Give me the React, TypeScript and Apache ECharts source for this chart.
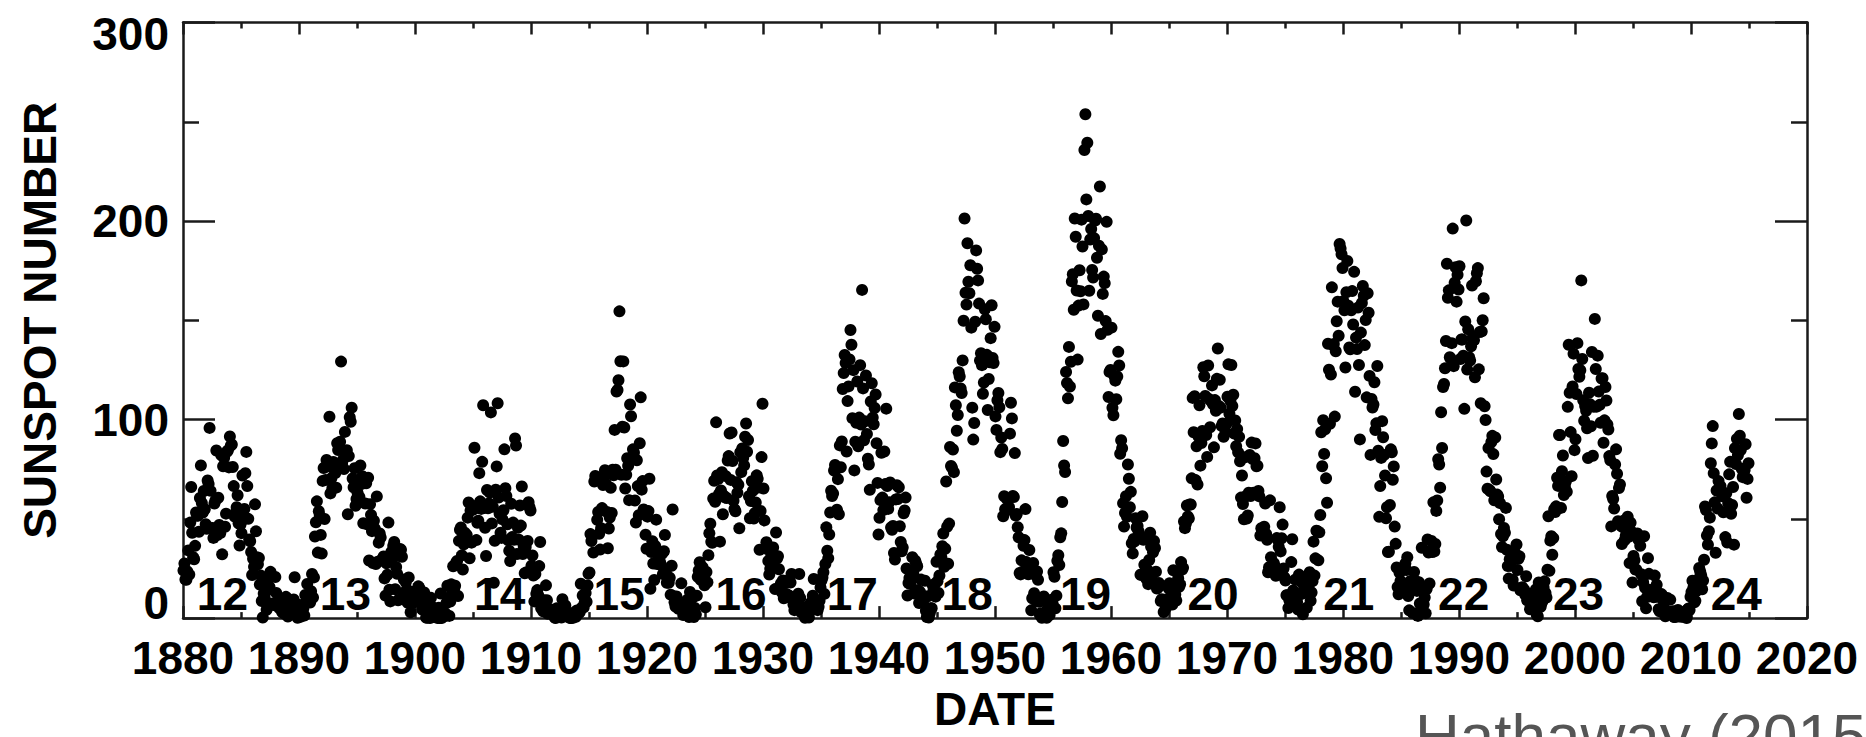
import { useEffect, useRef } from "react";
import * as echarts from "echarts";

// Monthly mean sunspot numbers, January to December, grouped by decade.
const ssn1880s = [
  24.0, 27.5, 19.5, 19.3, 23.5, 34.1, 21.9, 48.1, 66.0, 43.0, 30.7, 29.6,
  36.4, 53.2, 51.5, 51.7, 43.5, 60.5, 76.9, 58.0, 53.2, 64.0, 54.8, 47.3,
  45.0, 69.3, 67.5, 95.8, 64.1, 45.2, 45.4, 40.4, 57.7, 59.2, 84.4, 41.8,
  60.6, 46.9, 42.8, 82.1, 32.1, 76.5, 80.6, 46.0, 52.6, 83.8, 84.5, 75.9,
  91.5, 86.9, 87.5, 76.1, 66.5, 51.2, 53.1, 55.8, 61.9, 47.8, 36.6, 47.2,
  42.8, 71.8, 49.8, 55.0, 73.0, 83.7, 66.5, 50.0, 39.6, 38.7, 33.3, 21.7,
  29.9, 25.9, 57.3, 43.7, 30.7, 27.1, 30.3, 16.9, 21.4, 8.6, 0.3, 12.4,
  10.3, 13.2, 4.2, 6.9, 20.0, 15.7, 23.3, 21.4, 7.4, 6.6, 6.9, 20.7,
  12.7, 7.1, 7.8, 5.1, 7.0, 7.1, 3.1, 2.8, 8.8, 2.1, 10.7, 6.7,
  0.8, 8.5, 6.7, 4.3, 2.4, 6.4, 9.4, 20.6, 6.5, 2.1, 0.2, 6.7,
];
const ssn1890s = [
  5.3, 0.6, 5.1, 1.6, 4.8, 1.3, 11.6, 8.5, 17.2, 11.2, 9.6, 7.8,
  13.5, 22.2, 10.4, 20.5, 41.1, 48.3, 58.8, 33.0, 53.8, 51.5, 41.9, 32.5,
  69.1, 75.6, 49.9, 69.6, 79.6, 76.3, 76.8, 101.4, 62.8, 70.5, 65.4, 78.6,
  75.0, 73.0, 65.7, 88.1, 84.7, 88.2, 88.8, 129.2, 77.9, 79.7, 75.1, 93.8,
  83.2, 84.6, 52.3, 81.6, 101.2, 98.9, 106.0, 70.3, 65.9, 75.5, 56.6, 60.0,
  63.3, 67.2, 61.0, 76.9, 67.5, 71.5, 47.8, 68.9, 57.7, 67.9, 47.2, 70.7,
  29.0, 57.4, 52.0, 43.8, 27.7, 49.0, 45.0, 27.2, 61.3, 28.4, 38.0, 42.6,
  40.6, 29.4, 29.1, 31.0, 20.0, 11.3, 27.6, 21.8, 48.1, 14.3, 8.4, 33.3,
  30.2, 36.4, 38.3, 14.5, 25.8, 22.3, 9.0, 31.4, 34.8, 34.4, 30.9, 12.6,
  19.5, 9.2, 18.1, 14.2, 7.7, 20.5, 13.5, 2.9, 8.4, 13.0, 7.8, 10.5,
];
const ssn1900s = [
  9.4, 13.6, 8.6, 16.0, 15.2, 12.1, 8.3, 4.3, 8.3, 12.9, 4.5, 0.3,
  0.2, 2.4, 4.5, 0.0, 10.2, 5.8, 0.7, 1.0, 0.6, 3.7, 3.8, 0.0,
  5.2, 0.0, 12.4, 0.0, 2.8, 1.4, 0.9, 2.3, 7.6, 16.3, 10.3, 1.1,
  8.3, 17.0, 13.5, 26.1, 14.6, 16.3, 27.9, 28.8, 11.1, 38.9, 44.5, 45.6,
  31.6, 24.5, 37.2, 43.0, 39.5, 41.9, 50.6, 58.2, 30.1, 54.2, 38.0, 54.6,
  54.8, 85.8, 56.5, 39.3, 48.0, 49.0, 73.0, 58.8, 55.0, 78.7, 107.2, 55.5,
  45.5, 31.3, 64.5, 55.3, 57.7, 63.2, 103.6, 47.7, 56.1, 17.8, 38.9, 64.7,
  76.4, 108.2, 60.7, 52.6, 43.0, 40.4, 49.7, 54.3, 85.0, 65.4, 61.5, 47.3,
  39.2, 33.9, 28.7, 57.6, 40.8, 48.1, 39.5, 90.5, 86.9, 32.3, 45.5, 39.5,
  56.7, 46.6, 66.3, 32.3, 36.0, 22.6, 35.8, 23.1, 38.8, 58.4, 55.8, 54.2,
];
const ssn1910s = [
  26.4, 31.5, 21.4, 8.4, 22.2, 12.3, 14.1, 11.5, 26.2, 38.3, 4.9, 5.8,
  3.4, 9.0, 7.8, 16.5, 9.0, 2.2, 3.5, 4.0, 4.0, 2.6, 4.2, 2.2,
  0.3, 0.0, 4.9, 4.5, 4.4, 4.1, 3.0, 0.3, 9.5, 4.6, 1.1, 6.4,
  2.3, 2.9, 0.5, 0.9, 0.0, 0.0, 1.7, 0.2, 1.2, 3.1, 0.7, 3.8,
  2.8, 2.6, 3.1, 17.3, 5.2, 11.4, 5.4, 7.7, 12.7, 8.2, 16.4, 22.3,
  23.0, 42.3, 38.8, 41.3, 33.0, 68.8, 71.6, 69.6, 49.5, 53.5, 42.5, 34.5,
  45.3, 55.4, 67.0, 71.8, 74.5, 67.7, 53.5, 35.2, 45.1, 50.7, 65.6, 53.0,
  74.7, 71.9, 94.8, 74.7, 114.1, 114.9, 119.8, 154.5, 129.4, 72.2, 96.4, 129.3,
  96.0, 65.3, 72.2, 80.5, 76.7, 59.4, 107.6, 101.7, 79.9, 85.0, 83.4, 59.2,
  48.1, 79.5, 66.5, 51.8, 88.1, 111.2, 64.7, 69.0, 54.7, 52.8, 42.0, 34.9,
];
const ssn1920s = [
  51.1, 53.9, 70.2, 14.8, 33.3, 38.7, 27.5, 19.2, 36.3, 49.6, 27.2, 29.9,
  31.5, 28.3, 26.7, 32.4, 22.2, 33.7, 41.9, 22.8, 17.8, 18.2, 17.8, 20.3,
  11.8, 26.4, 54.7, 11.0, 8.0, 5.8, 10.9, 6.5, 4.7, 6.2, 7.4, 17.5,
  4.5, 1.5, 3.3, 6.1, 3.2, 9.1, 3.5, 0.5, 13.2, 11.6, 10.0, 2.8,
  0.5, 5.1, 1.8, 11.3, 20.8, 24.0, 28.1, 19.3, 25.1, 25.6, 22.5, 16.5,
  5.5, 23.2, 18.0, 31.7, 42.8, 47.5, 38.5, 37.9, 60.2, 69.2, 58.6, 98.6,
  71.8, 70.0, 62.5, 38.5, 64.3, 73.5, 52.3, 61.6, 60.8, 71.5, 60.5, 79.4,
  81.6, 93.0, 69.6, 93.5, 79.1, 59.1, 54.9, 53.8, 68.4, 63.1, 67.2, 45.2,
  83.5, 73.5, 85.4, 80.6, 76.9, 91.4, 98.0, 83.8, 89.7, 61.4, 50.3, 59.0,
  68.9, 64.1, 50.2, 52.8, 58.2, 71.9, 70.2, 65.8, 34.4, 54.0, 81.1, 108.0,
];
const ssn1930s = [
  65.3, 49.2, 35.0, 38.2, 36.8, 28.8, 21.9, 24.9, 32.1, 34.4, 35.6, 25.8,
  14.6, 43.1, 30.0, 31.2, 24.6, 15.3, 17.4, 13.0, 19.0, 10.0, 18.7, 17.8,
  12.1, 10.6, 11.2, 11.2, 17.9, 22.2, 9.6, 6.8, 4.0, 8.9, 8.2, 11.0,
  12.3, 22.2, 10.1, 2.9, 3.2, 5.2, 2.8, 0.2, 5.1, 3.0, 0.6, 0.3,
  3.4, 7.8, 4.3, 11.3, 19.7, 6.7, 9.3, 8.3, 4.0, 5.7, 8.7, 15.4,
  18.9, 20.5, 23.1, 12.2, 27.3, 45.7, 33.9, 30.1, 42.1, 53.2, 64.2, 61.5,
  62.8, 74.3, 77.1, 74.9, 54.6, 70.0, 52.3, 87.0, 76.0, 89.0, 115.4, 123.4,
  132.5, 128.5, 83.9, 109.3, 116.7, 130.3, 145.1, 137.7, 100.7, 124.9, 74.4, 88.8,
  98.4, 119.2, 86.5, 101.0, 127.4, 97.5, 165.3, 115.7, 89.6, 99.1, 122.2, 92.7,
  80.3, 77.4, 64.6, 109.1, 118.3, 101.0, 97.6, 105.8, 112.6, 88.1, 68.1, 42.1,
];
const ssn1940s = [
  50.5, 59.4, 83.3, 60.7, 54.4, 83.9, 67.5, 105.5, 66.5, 55.0, 58.4, 68.3,
  45.6, 44.5, 46.4, 32.8, 29.5, 59.8, 66.9, 60.0, 65.9, 46.3, 38.3, 33.7,
  35.6, 52.8, 54.2, 60.7, 25.0, 11.4, 17.7, 20.2, 17.2, 19.2, 30.7, 22.5,
  12.4, 28.9, 27.4, 26.1, 14.1, 7.6, 13.2, 19.4, 10.0, 7.8, 10.2, 18.8,
  3.7, 0.5, 11.0, 0.3, 2.5, 5.0, 5.0, 16.7, 14.3, 16.9, 10.8, 28.4,
  18.5, 12.7, 21.5, 32.0, 30.6, 36.2, 42.6, 25.9, 34.9, 68.8, 46.0, 27.4,
  47.6, 86.2, 76.6, 75.7, 84.9, 73.5, 116.2, 107.2, 94.4, 102.3, 123.8, 121.7,
  115.7, 113.4, 129.8, 149.8, 201.3, 163.9, 157.9, 188.8, 169.4, 163.6, 177.7, 146.3,
  106.0, 89.9, 98.3, 149.3, 185.2, 176.0, 170.1, 158.4, 129.7, 133.4, 127.4, 113.0,
  118.7, 155.6, 150.5, 132.6, 104.8, 120.4, 128.9, 141.0, 157.6, 131.0, 128.5, 146.7,
];
const ssn1950s = [
  101.6, 94.8, 109.7, 113.4, 106.2, 83.6, 91.0, 85.2, 51.3, 61.4, 54.8, 54.1,
  59.9, 59.9, 55.9, 92.9, 108.5, 100.6, 61.5, 61.0, 83.1, 51.6, 52.4, 45.8,
  40.7, 22.7, 22.0, 29.1, 23.4, 36.4, 39.3, 54.9, 28.2, 23.8, 22.1, 34.3,
  26.5, 3.9, 10.0, 27.8, 12.5, 21.8, 8.6, 23.5, 19.3, 8.2, 1.6, 2.5,
  0.2, 0.5, 10.9, 1.8, 0.8, 0.2, 4.8, 8.4, 1.5, 7.0, 9.2, 7.6,
  23.1, 20.8, 4.9, 11.3, 28.9, 31.7, 26.7, 40.7, 42.7, 58.5, 89.2, 76.9,
  73.6, 124.0, 118.4, 110.7, 136.6, 116.6, 129.1, 169.6, 173.2, 155.3, 201.3, 192.1,
  165.0, 130.2, 157.4, 175.2, 164.6, 200.7, 187.2, 158.0, 235.8, 253.8, 210.9, 239.4,
  202.5, 164.9, 190.7, 196.0, 175.3, 171.5, 191.4, 200.2, 201.2, 181.5, 152.3, 187.6,
  217.4, 143.1, 185.7, 163.3, 172.0, 168.7, 149.6, 199.6, 145.2, 111.4, 124.0, 125.0,
];
const ssn1960s = [
  146.3, 106.0, 102.2, 122.0, 119.6, 110.2, 121.7, 134.1, 127.2, 82.8, 89.6, 85.6,
  57.9, 46.1, 53.0, 61.4, 51.0, 77.4, 70.2, 55.8, 63.6, 37.7, 32.6, 39.9,
  38.7, 50.3, 45.6, 46.4, 43.7, 42.0, 21.8, 21.8, 51.3, 39.5, 26.9, 23.2,
  19.8, 24.4, 17.1, 29.3, 43.0, 35.9, 19.6, 33.2, 38.8, 35.3, 23.4, 14.9,
  15.3, 17.7, 16.5, 8.6, 9.5, 9.1, 3.1, 9.3, 4.7, 6.1, 7.4, 15.1,
  17.5, 14.2, 11.7, 6.8, 24.1, 15.9, 11.9, 8.9, 16.8, 20.1, 15.8, 17.0,
  28.2, 24.4, 25.3, 48.7, 45.3, 47.7, 56.7, 51.2, 50.2, 57.2, 57.2, 70.4,
  110.9, 93.6, 111.8, 69.5, 86.5, 67.3, 91.5, 107.2, 76.8, 88.2, 94.3, 126.4,
  121.8, 111.9, 92.2, 81.2, 127.2, 110.3, 96.1, 109.3, 117.2, 107.7, 86.0, 109.8,
  104.4, 120.5, 135.8, 106.8, 120.0, 106.0, 96.8, 98.0, 91.3, 95.7, 93.5, 97.9,
];
const ssn1970s = [
  111.5, 127.8, 102.9, 109.5, 127.5, 106.8, 112.5, 93.0, 99.5, 86.6, 95.2, 83.5,
  91.3, 79.0, 60.7, 71.8, 57.5, 49.8, 81.0, 61.4, 50.2, 51.7, 63.2, 82.2,
  61.5, 88.4, 80.1, 63.2, 80.5, 88.0, 76.5, 76.8, 64.0, 61.3, 41.6, 45.3,
  43.4, 42.9, 46.0, 57.7, 42.4, 39.5, 23.1, 25.6, 59.3, 30.7, 23.9, 23.3,
  27.6, 26.0, 21.3, 40.3, 39.5, 36.0, 55.8, 33.6, 40.2, 47.1, 25.0, 20.5,
  18.9, 11.5, 11.5, 5.1, 9.0, 11.4, 28.2, 39.7, 13.9, 9.1, 19.4, 7.8,
  8.1, 4.3, 21.9, 18.8, 12.4, 12.2, 1.9, 16.4, 13.5, 20.6, 5.2, 15.3,
  16.4, 23.1, 8.7, 12.9, 18.6, 38.5, 21.4, 30.1, 44.0, 43.8, 29.1, 43.2,
  51.9, 93.6, 76.5, 99.7, 82.7, 95.1, 70.4, 58.1, 138.2, 125.1, 97.9, 122.7,
  166.6, 137.5, 138.0, 101.5, 134.4, 149.5, 159.4, 142.2, 188.4, 186.2, 183.3, 176.3,
];
const ssn1980s = [
  159.6, 155.0, 126.2, 164.1, 179.9, 157.3, 136.3, 135.4, 155.0, 164.7, 147.9, 174.4,
  114.0, 141.3, 135.5, 156.4, 127.5, 90.0, 143.8, 158.7, 167.3, 162.4, 137.5, 150.1,
  111.2, 163.6, 153.8, 122.0, 82.2, 110.4, 106.1, 107.6, 118.8, 94.7, 98.1, 127.0,
  84.3, 51.0, 66.5, 80.7, 99.2, 91.1, 82.2, 71.8, 50.3, 55.8, 33.3, 33.4,
  57.0, 85.0, 83.5, 69.7, 76.4, 46.1, 37.4, 25.5, 15.7, 12.0, 22.8, 18.7,
  16.5, 15.9, 17.2, 16.2, 27.5, 24.2, 30.7, 11.1, 3.9, 18.6, 16.2, 17.3,
  2.5, 23.2, 15.1, 18.5, 13.7, 1.1, 18.1, 7.4, 3.8, 35.4, 15.2, 6.8,
  10.4, 2.4, 14.7, 39.6, 33.0, 17.4, 33.9, 38.8, 33.3, 58.3, 33.6, 37.3,
  54.0, 59.2, 80.0, 77.4, 65.7, 103.7, 85.7, 116.4, 117.9, 125.8, 139.6, 178.5,
  161.3, 165.1, 131.4, 130.6, 138.5, 196.2, 126.9, 168.9, 176.7, 159.4, 173.0, 165.5,
];
const ssn1990s = [
  177.2, 130.5, 140.3, 140.3, 132.2, 105.4, 149.4, 200.3, 125.2, 145.5, 131.4, 129.7,
  136.9, 167.5, 141.9, 140.0, 121.3, 169.7, 173.7, 176.3, 125.3, 144.1, 108.2, 144.4,
  150.0, 161.1, 106.7, 99.8, 73.8, 65.2, 85.7, 64.5, 63.9, 88.7, 91.8, 82.6,
  59.3, 91.0, 69.8, 62.2, 61.3, 49.8, 57.9, 42.4, 35.8, 41.2, 45.4, 43.0,
  55.5, 34.4, 26.2, 19.9, 29.7, 26.4, 28.7, 19.3, 16.4, 33.3, 31.1, 37.1,
  24.2, 29.9, 31.1, 14.0, 14.5, 15.6, 14.5, 14.3, 11.8, 21.1, 9.0, 10.0,
  11.5, 4.4, 9.2, 4.8, 5.5, 11.8, 8.2, 14.4, 1.6, 0.9, 17.9, 13.3,
  5.7, 7.6, 8.7, 15.5, 18.5, 12.7, 10.4, 24.4, 51.3, 23.8, 39.0, 41.2,
  31.9, 40.3, 54.8, 53.4, 56.3, 70.7, 66.6, 92.2, 92.2, 55.5, 74.0, 81.9,
  62.0, 66.3, 68.8, 63.7, 106.4, 137.7, 113.5, 93.7, 71.5, 116.7, 133.2, 84.6,
];
const ssn2000s = [
  90.1, 112.9, 138.5, 125.5, 121.6, 124.9, 170.1, 130.5, 109.7, 99.4, 106.8, 104.4,
  95.6, 80.6, 113.5, 107.7, 96.6, 134.0, 81.8, 106.4, 150.7, 125.5, 106.5, 132.2,
  114.1, 107.4, 98.4, 120.7, 120.8, 88.3, 99.6, 116.4, 109.6, 97.5, 95.0, 81.6,
  79.5, 46.2, 61.5, 60.0, 55.2, 77.4, 85.0, 72.7, 48.8, 65.5, 67.3, 46.5,
  37.3, 45.8, 49.1, 39.3, 41.5, 43.2, 51.1, 40.9, 27.7, 48.0, 43.5, 17.9,
  31.3, 29.2, 24.5, 24.4, 42.6, 39.6, 39.9, 36.4, 22.1, 8.5, 18.0, 41.2,
  15.3, 4.9, 10.6, 30.2, 22.3, 13.9, 12.2, 12.9, 14.4, 10.5, 21.4, 13.6,
  16.8, 10.7, 4.5, 3.4, 11.7, 12.1, 9.7, 6.0, 2.4, 0.9, 1.7, 10.1,
  3.3, 2.1, 9.3, 2.9, 3.2, 3.4, 0.5, 0.5, 1.1, 2.9, 4.1, 0.8,
  1.5, 1.4, 0.7, 0.8, 2.9, 2.9, 3.2, 0.0, 4.3, 4.8, 4.1, 10.8,
];
const ssn2010s = [
  13.2, 18.8, 15.4, 8.0, 8.7, 13.6, 16.1, 19.6, 25.2, 23.5, 21.6, 14.5,
  19.0, 29.4, 56.2, 54.4, 41.6, 37.0, 43.8, 50.6, 78.0, 88.0, 96.7, 73.0,
  58.3, 32.9, 64.3, 55.2, 69.0, 64.5, 66.5, 63.0, 61.4, 53.3, 61.8, 40.8,
  62.9, 38.1, 57.9, 72.4, 78.7, 52.5, 57.0, 66.0, 37.0, 85.6, 77.6, 90.3,
  82.0, 102.8, 91.9, 84.7, 75.2, 71.0, 72.4, 74.6, 87.6, 60.6, 70.1, 78.0,
];

const decadeStartYears = [1880, 1890, 1900, 1910, 1920, 1930, 1940, 1950, 1960, 1970, 1980, 1990, 2000, 2010];
const decadeSeries = [
  ssn1880s, ssn1890s, ssn1900s, ssn1910s, ssn1920s, ssn1930s, ssn1940s,
  ssn1950s, ssn1960s, ssn1970s, ssn1980s, ssn1990s, ssn2000s, ssn2010s,
];

// Solar cycle numbers and the dates they are written at
const cycleNumbers = ["12", "13", "14", "15", "16", "17", "18", "19", "20", "21", "22", "23", "24"];
const cycleLabelYears = [1883.4, 1894.0, 1907.3, 1917.6, 1928.1, 1937.7, 1947.6, 1957.8, 1968.8, 1980.5, 1990.4, 2000.3, 2013.9];
const cycleLabelLevel = 12.25;

const X_MIN = 1880;
const X_MAX = 2020;
const Y_MIN = 0;
const Y_MAX = 300;

const FONT = "'Liberation Sans', Arial, Helvetica, sans-serif";
const AXIS_COLOR = "#1a1a1a";

function monthlyPoints(): [number, number][] {
  const pts: [number, number][] = [];
  decadeSeries.forEach((values, d) => {
    values.forEach((v, i) => {
      pts.push([decadeStartYears[d] + (i + 0.5) / 12, v]);
    });
  });
  return pts;
}

export default function App() {
  const ref = useRef<HTMLDivElement>(null);

  useEffect(() => {
    if (!ref.current) return;
    const chart = echarts.init(ref.current, undefined, { renderer: "svg" });

    const lineStyle = { color: AXIS_COLOR, width: 2.5 };
    const labelFont = { fontSize: 46, fontWeight: "bold" as const, fontFamily: FONT, color: "#000" };

    const xCommon = {
      type: "value" as const,
      min: X_MIN,
      max: X_MAX,
      interval: 10,
      axisLine: { show: true, onZero: false, lineStyle },
      axisTick: { show: true, inside: true, length: 12, lineStyle },
      minorTick: { show: true, splitNumber: 2, length: 6, lineStyle },
      splitLine: { show: false },
      minorSplitLine: { show: false },
    };
    const yCommon = {
      type: "value" as const,
      min: Y_MIN,
      max: Y_MAX,
      interval: 100,
      axisLine: { show: true, onZero: false, lineStyle },
      axisTick: { show: true, inside: true, length: 32, lineStyle },
      minorTick: { show: true, splitNumber: 2, length: 16, lineStyle },
      splitLine: { show: false },
      minorSplitLine: { show: false },
    };

    chart.setOption({
      animation: false,
      backgroundColor: "#ffffff",
      grid: { left: 183, right: 59, top: 22.5, bottom: 114, containLabel: false },
      xAxis: [
        {
          ...xCommon,
          position: "bottom",
          axisLabel: { show: true, margin: 17, ...labelFont, formatter: (v: number) => String(v) },
          name: "DATE",
          nameLocation: "middle",
          nameGap: 67,
          nameTextStyle: { ...labelFont },
        },
        { ...xCommon, position: "top", axisLabel: { show: false } },
      ],
      yAxis: [
        {
          ...yCommon,
          position: "left",
          axisLabel: {
            show: true,
            margin: 14,
            ...labelFont,
            formatter: (v: number) => (v === Y_MIN ? `{lo|${v}}` : v === Y_MAX ? `{hi|${v}}` : `${v}`),
            rich: {
              lo: { ...labelFont, padding: [0, 0, 30, 0] },
              hi: { ...labelFont, padding: [22, 0, 0, 0] },
            },
          },
          name: "SUNSPOT NUMBER",
          nameLocation: "middle",
          nameGap: 120,
          nameTextStyle: { ...labelFont },
        },
        { ...yCommon, position: "right", axisLabel: { show: false } },
      ],
      series: [
        {
          type: "scatter",
          xAxisIndex: 0,
          yAxisIndex: 0,
          symbol: "circle",
          symbolSize: 12,
          itemStyle: { color: "#000000", opacity: 1 },
          silent: true,
          data: monthlyPoints(),
        },
        {
          type: "scatter",
          xAxisIndex: 0,
          yAxisIndex: 0,
          symbolSize: 0,
          itemStyle: { color: "#000000", opacity: 1 },
          silent: true,
          z: 5,
          label: {
            show: true,
            position: "inside",
            formatter: "{b}",
            opacity: 1,
            ...labelFont,
          },
          data: cycleLabelYears.map((x, i) => ({ name: cycleNumbers[i], value: [x, cycleLabelLevel] })),
        },
      ],
      graphic: [
        {
          type: "text",
          left: 1415,
          top: 704,
          silent: true,
          style: {
            text: "Hathaway (2015)",
            fontSize: 62,
            fontFamily: FONT,
            fill: "#555555",
          },
        },
      ],
    });

    return () => chart.dispose();
  }, []);

  return (
    <div
      ref={ref}
      style={{ position: "absolute", left: 0, top: 0, width: "1866px", height: "737px" }}
    />
  );
}
